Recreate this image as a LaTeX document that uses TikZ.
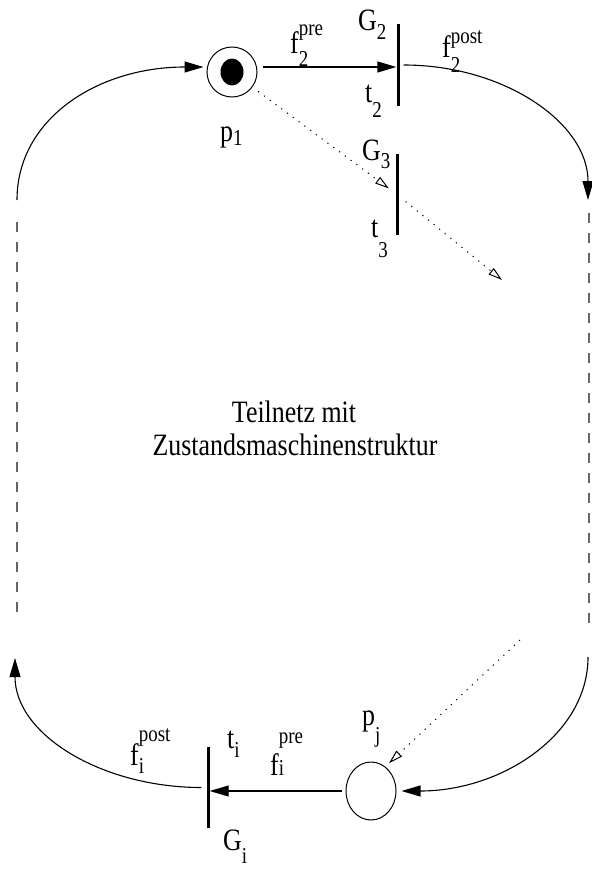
\documentclass[tikz,border=0pt]{standalone}
\usepackage{fontspec}
\setmainfont{Liberation Serif}
\usepackage{graphicx}
\usetikzlibrary{arrows.meta, positioning, shapes.geometric}

\newcommand{\tall}[1]{\scalebox{1}[1.2]{#1}}
\newcommand{\scr}{\fontsize{19}{19}\selectfont}
\newcommand{\pnsub}[3]{\tall{#1\raisebox{-#3}{\scr #2}}}
\newcommand{\pnboth}[5]{\tall{#1\raisebox{-#3}{\rlap{\scr #2}}\raisebox{#5}{\scr #4}}}

\begin{document}
\begin{tikzpicture}[
        x = 1bp, y = -1bp,
        >= {Triangle[length = 19bp, width = 11bp]},
        every node/.style = {inner sep = 0pt, font = \fontsize{26}{30}\selectfont},
        place/.style = {circle, draw, line width = 1bp, minimum size = 50bp},
        trans/.style = {fill, minimum width = 3bp, minimum height = 81bp},
        arc/.style = {->, line width = 1.1bp},
        guard/.style = {-{Triangle[open, length = 14bp, width = 8bp]}, line width = 1bp, dash pattern = on 1.2bp off 6bp},
        cut/.style = {color = black!60, line width = 1.1bp, dash pattern = on 10bp off 10bp},
        lbl/.style = {anchor = base west}
    ]
      \useasboundingbox (0,0) rectangle (592,869);

      \node[place] (p1) at (232,72) {};
      \node[trans] (t2) at (398,65) {};
      \node[trans] (t3) at (397,194.5) {};
      \node[place, ellipse, minimum width = 50bp, minimum height = 58bp] (pj) at (371,791) {};
      \node[trans] (ti) at (208,787.5) {};
      \fill (p1.center) ellipse [x radius = 11.5bp, y radius = 13.5bp];

      \coordinate (lup) at (17,200);
      \coordinate (ldtop) at (17,222);
      \coordinate (ldbot) at (17,616);
      \coordinate (llow) at (15,658);
      \coordinate (rup) at (588,200);
      \coordinate (rdtop) at (589,213);
      \coordinate (rdbot) at (589,626);
      \coordinate (rlow) at (588,657);
      \coordinate (g3out) at (502,280);
      \coordinate (gjin) at (520,640);

      \path[arc] ([yshift = 5bp]p1.east) edge[shorten <= 5bp] ([yshift = 5bp]p1.east -| t2.west)
                 (t2.east) edge[shorten <= 4bp, out = 0, in = 90, out looseness = 1.15, in looseness = 0.85] (rup)
                 (rlow) edge[shorten >= 5bp, out = 270, in = 0, out looseness = 0.85, in looseness = 1.15] (pj.east)
                 (pj.west) edge[shorten <= 4bp] (ti.east |- pj.west)
                 (ti.west) edge[shorten <= 5bp, out = 180, in = 270, out looseness = 1.15, in looseness = 0.85] (llow)
                 (lup) edge[shorten >= 3bp, out = 90, in = 180, out looseness = 0.9, in looseness = 1.2] ([yshift = 5bp]p1.west);

      \path[guard] (p1) edge[shorten <= 7bp, shorten >= 8bp] (t3)
                   (t3) edge[shorten <= 9bp] (g3out)
                   (gjin) edge ([yshift = 7bp]pj.north east);

      \draw[cut] (ldtop) -- (ldbot);
      \draw[cut] (rdtop) -- (rdbot);

      \node[lbl] (lp1) at (220,141) {\pnsub{p}{1}{0.15em}};
      \node[lbl] (lf2pre) at (290,53) {\pnboth{f}{2}{0.45em}{pre}{0.55em}};
      \node[lbl] (lG2) at (358,30) {\pnsub{G}{2}{0.32em}};
      \node[lbl] (lt2) at (365,102) {\pnsub{t}{2}{0.5em}};
      \node[lbl] (lf2post) at (442,57) {\pnboth{f}{2}{0.5em}{post}{0.45em}};
      \node[lbl] (lG3) at (362,160) {\pnsub{G}{3}{0.26em}};
      \node[lbl] (lt3) at (371,237) {\pnsub{t}{3}{0.67em}};
      \node[lbl] (lpj) at (362,725) {\pnsub{p}{j}{0.55em}};
      \node[lbl] (lfipre) at (270,775) {\pnboth{f}{i}{0em}{pre}{1em}};
      \node[lbl] (lti) at (227,748) {\pnsub{t}{i}{0.32em}};
      \node[lbl] (lfipost) at (130,765) {\pnboth{f}{i}{0.26em}{post}{0.77em}};
      \node[lbl] (lGi) at (223,850) {\pnsub{G}{i}{0.45em}};

      \node[anchor = base] (txt1) at (294,422) {\tall{Teilnetz mit}};
      \node[anchor = base] (txt2) at (295,455) {\tall{Zustandsmaschinenstruktur}};
\end{tikzpicture}
\end{document}
